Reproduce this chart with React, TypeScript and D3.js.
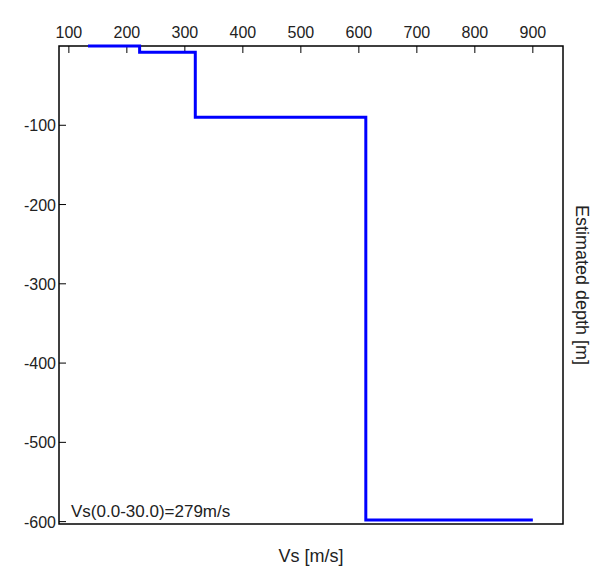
import React from 'react';
import * as d3 from 'd3';

// layered Vs profile (step), depth in m (negative)
const vsValues = [133, 222, 318, 612, 900];
// depth at which Vs changes from vsValues[i] to vsValues[i + 1]
const boundaries = [0, -8, -90, -598];
const xTicks = [100, 200, 300, 400, 500, 600, 700, 800, 900];
const yTicks = [-100, -200, -300, -400, -500, -600];

const W = 601, H = 576;
const L = 59, R = 563, T = 46, B = 524;

const App: React.FC = () => {
  const x = d3.scaleLinear().domain([83, 952]).range([L, R]);
  const y = d3.scaleLinear().domain([0, -603]).range([T, B]);

  const pts: [number, number][] = [[vsValues[0], boundaries[0]]];
  for (let i = 1; i < vsValues.length; i++) {
    pts.push([vsValues[i], boundaries[i - 1]]);
    if (i < boundaries.length) pts.push([vsValues[i], boundaries[i]]);
  }
  const line = d3.line<[number, number]>().x(d => x(d[0])).y(d => y(d[1]));

  const font = "'Liberation Sans', Arial, sans-serif";
  return (
    <svg width={W} height={H} style={{ position: 'absolute', left: 0, top: 0, background: '#fff' }}>
      <rect x={L} y={T} width={R - L} height={B - T} fill="#fff" stroke="#000" strokeWidth={1.5} />
      {xTicks.map(t => (
        <g key={t}>
          <line x1={x(t)} x2={x(t)} y1={T} y2={T + 7} stroke="#000" />
          <text x={x(t)} y={T - 8} textAnchor="middle" fontSize={16} fontFamily={font} fill="#222">{t}</text>
        </g>
      ))}
      {yTicks.map(t => (
        <g key={t}>
          <line x1={L} x2={L + 7} y1={y(t)} y2={y(t)} stroke="#000" />
          <text x={L - 3} y={y(t) + 6} textAnchor="end" fontSize={16} fontFamily={font} fill="#222">{t}</text>
        </g>
      ))}
      <path d={line(pts) || ''} fill="none" stroke="#0000ff" strokeWidth={3} />
      <text x={L + 12} y={B - 7} fontSize={17} fontFamily={font} fill="#222">Vs(0.0-30.0)=279m/s</text>
      <text x={(L + R) / 2} y={H - 14} textAnchor="middle" fontSize={18} fontFamily={font} fill="#222">Vs [m/s]</text>
      <text transform={`translate(576, ${(T + B) / 2}) rotate(90)`} textAnchor="middle" fontSize={18} fontFamily={font} fill="#222">Estimated depth [m]</text>
    </svg>
  );
};

export default App;
